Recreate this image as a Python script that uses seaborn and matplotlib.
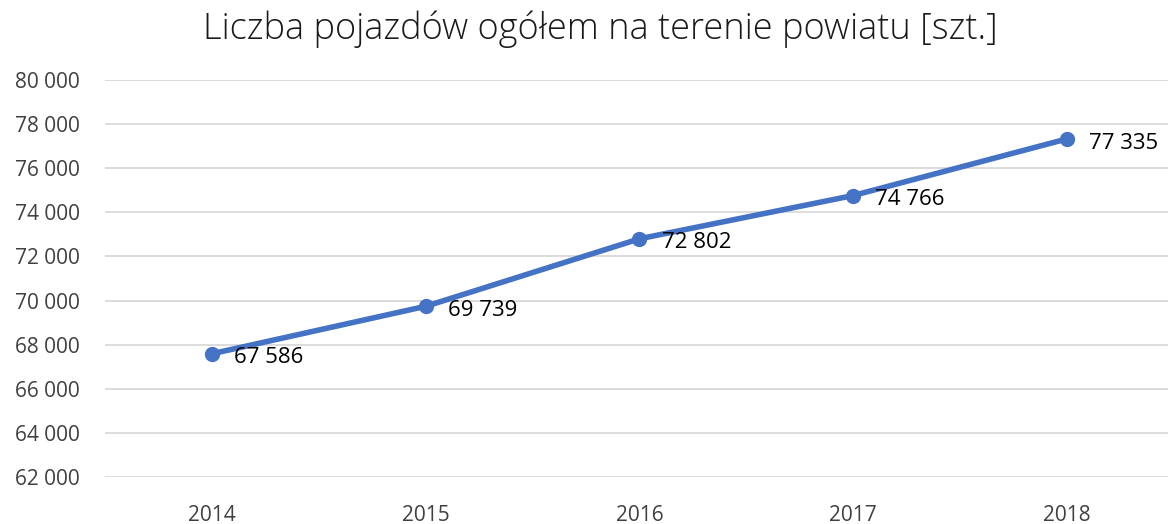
import matplotlib
matplotlib.use("Agg")
import matplotlib.pyplot as plt
import seaborn as sns
import pandas as pd
from matplotlib.ticker import FuncFormatter

years = [2014, 2015, 2016, 2017, 2018]
vehicles = [67586, 69739, 72802, 74766, 77335]
title = "Liczba pojazdów ogółem na terenie powiatu [szt.]"

df = pd.DataFrame({"rok": years, "pojazdy": vehicles})

sns.set_theme(style="white")
plt.rcParams['font.family'] = ['Open Sans', 'DejaVu Sans']

fig = plt.figure(figsize=(11.68, 5.24), dpi=100)
ax = fig.add_axes([0.09, 0.09, 0.915, 0.757])

sns.lineplot(data=df, x="rok", y="pojazdy", ax=ax, color="#4472C4",
             linewidth=4, marker="o", markersize=11, markeredgewidth=0)

def fmt(v, pos=None):
    return f"{int(round(v)):,}".replace(",", " ")

for x, y in zip(years, vehicles):
    ax.annotate(fmt(y), (x, y), xytext=(16, -3), textcoords="offset points",
                ha="left", va="center", fontsize=16, color="black")

ax.set_xlim(2013.5, 2018.5)
ax.set_ylim(62000, 80000)
ax.set_yticks(range(62000, 80001, 2000))
ax.yaxis.set_major_formatter(FuncFormatter(fmt))
ax.set_xticks(years)
ax.set_xticklabels([str(y) for y in years])
ax.grid(axis="y", color="#D9D9D9", linewidth=1.3)
ax.set_axisbelow(True)
for s in ax.spines.values():
    s.set_visible(False)
ax.tick_params(axis="both", length=0, labelsize=15, colors="#404040")
ax.tick_params(axis="y", pad=18)
ax.tick_params(axis="x", pad=20)
ax.set_xlabel("")
ax.set_ylabel("")
fig.text(0.514, 0.945, title, fontsize=26, color="#1a1a1a",
         ha="center", va="center", fontweight="light")

fig.savefig("out.png", dpi=100)
